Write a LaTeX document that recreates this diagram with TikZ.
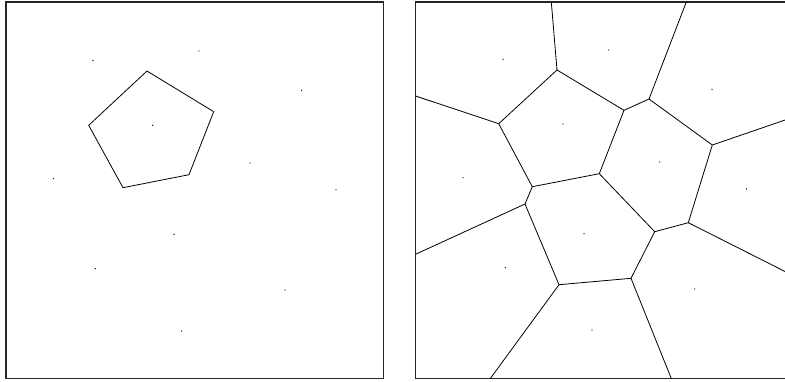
\documentclass[tikz,border=0pt]{standalone}
\begin{document}
\begin{tikzpicture}[x=1pt,y=-1pt,
  frame/.style={line width=1.3pt,draw=black!85},
  edge/.style={line width=0.8pt,line join=round},
  seed/.style={fill=black,draw=none}]
\useasboundingbox (0,0) rectangle (785,381);
\clip (0,0) rectangle (785,381);
% left panel
\draw[frame] (6,2) rectangle (383.5,378.5);
\draw[edge] (147,71) -- (213.7,111.7) -- (189,174.7) -- (123,187.7) -- (88.7,125.3) -- cycle;
\foreach \p in {(93,60.3),(199,51),(301.7,90.3),(152.7,125.3),(250,163),(53.3,178.7),(336,189.7),(174,234.3),(95.3,268.7),(285,290),(181.7,331)}
  \fill[seed] \p circle (0.7);
% right panel
\draw[frame] (415.5,2) rectangle (793,378.5);
\coordinate (A) at (557,70);
\coordinate (B) at (498.7,123.7);
\coordinate (C) at (624,110.3);
\coordinate (D) at (649,99);
\coordinate (E) at (712.3,145);
\coordinate (F) at (599.3,173.7);
\coordinate (G) at (532.3,186.7);
\coordinate (H) at (525,204);
\coordinate (I) at (654.7,231.7);
\coordinate (J) at (688.3,222.7);
\coordinate (K) at (559,284.7);
\coordinate (L) at (631,278.3);
\coordinate (t1) at (551.3,2);
\coordinate (t2) at (686.3,2);
\coordinate (l1) at (415.5,96);
\coordinate (l2) at (415.5,254.3);
\coordinate (r1) at (793,117.3);
\coordinate (r2) at (793,275.5);
\coordinate (b1) at (490.3,378.5);
\coordinate (b2) at (671.3,378.5);
\draw[edge] (A) -- (C) -- (F) -- (G) -- (B) -- cycle;
\draw[edge] (A) -- (t1);
\draw[edge] (B) -- (l1);
\draw[edge] (C) -- (D) -- (t2);
\draw[edge] (D) -- (E) -- (r1);
\draw[edge] (E) -- (J) -- (r2);
\draw[edge] (F) -- (I) -- (J);
\draw[edge] (G) -- (H) -- (l2);
\draw[edge] (H) -- (K) -- (L) -- (I);
\draw[edge] (K) -- (b1);
\draw[edge] (L) -- (b2);
\foreach \p in {(503,59.3),(608.7,50),(712,89.3),(563,124),(659.7,162),(463,177.7),(746.3,189),(584,233.7),(505.3,267.7),(694.7,289),(592,330)}
  \fill[seed] \p circle (0.7);
\end{tikzpicture}
\end{document}
